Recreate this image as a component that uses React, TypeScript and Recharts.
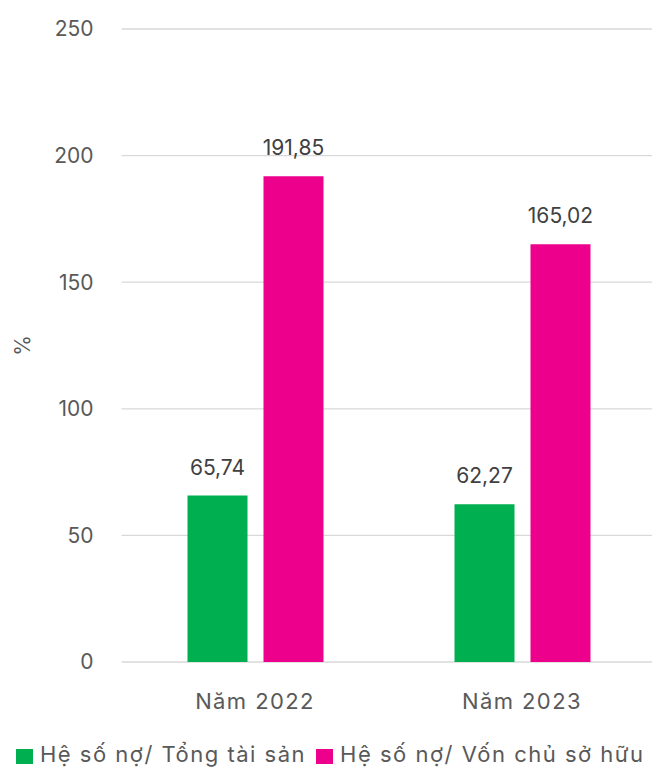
import React from 'react';
import { BarChart, Bar, XAxis, YAxis, CartesianGrid, LabelList } from 'recharts';

const categories = ['Năm 2022', 'Năm 2023'];
const debtToAssets = [65.74, 62.27];
const debtToEquity = [191.85, 165.02];
const yTicks = [0, 50, 100, 150, 200, 250];
const seriesNames = ['Hệ số nợ/ Tổng tài sản', 'Hệ số nợ/ Vốn chủ sở hữu'];
const seriesColors = ['#00B050', '#EC008C'];

const data = categories.map((c, i) => ({ name: c, a: debtToAssets[i], b: debtToEquity[i] }));

const FONT = 'Inter, "Open Sans", sans-serif';
const fmt = (v: any) => Number(v).toFixed(2).replace('.', ',');

const YLabel = (props: any) => {
  const vb = props.viewBox || {};
  const cx = 22;
  const cy = vb.y + vb.height / 2;
  return (
    <text x={cx} y={cy} transform={`rotate(-90 ${cx} ${cy})`} textAnchor="middle" dominantBaseline="central" fill="#595959" fontSize={21} fontFamily={FONT}>%</text>
  );
};

export default function App() {
  return (
    <div style={{ position: 'absolute', left: 0, top: 0, width: 652, height: 769, overflow: 'hidden', background: '#fff', fontFamily: FONT }}>
      <BarChart width={680} height={769} data={data} margin={{ top: 29, right: 24.5, bottom: 47, left: 0 }} barSize={60} barGap={16}>
        <CartesianGrid vertical={false} stroke="#d9d9d9" strokeWidth={1.3} />
        <XAxis dataKey="name" height={60} axisLine={false} tickLine={false} tickMargin={25} tick={{ fill: '#595959', fontSize: 22, fontFamily: FONT, letterSpacing: 1.4 }} />
        <YAxis width={121.5} domain={[0, 250]} ticks={yTicks} axisLine={false} tickLine={false} tickMargin={22} tick={{ fill: '#595959', fontSize: 21, fontFamily: FONT }} label={<YLabel />} />
        <Bar dataKey="a" fill={seriesColors[0]} isAnimationActive={false}>
          <LabelList dataKey="a" position="top" offset={21} formatter={fmt} fill="#404040" fontSize={21} fontFamily={FONT} />
        </Bar>
        <Bar dataKey="b" fill={seriesColors[1]} isAnimationActive={false}>
          <LabelList dataKey="b" position="top" offset={21} formatter={fmt} fill="#404040" fontSize={21} fontFamily={FONT} />
        </Bar>
      </BarChart>
      <div style={{ position: 'absolute', left: 16, top: 740, display: 'flex', alignItems: 'center', whiteSpace: 'nowrap' }}>
        {seriesNames.map((n, i) => (
          <div key={n} style={{ display: 'flex', alignItems: 'center', marginRight: 10 }}>
            <div style={{ width: 17, height: 15, background: seriesColors[i], marginRight: 7, marginTop: 5 }} />
            <span style={{ fontSize: 22, color: '#595959', lineHeight: '28px', letterSpacing: 1.5 }}>{n}</span>
          </div>
        ))}
      </div>
    </div>
  );
}
